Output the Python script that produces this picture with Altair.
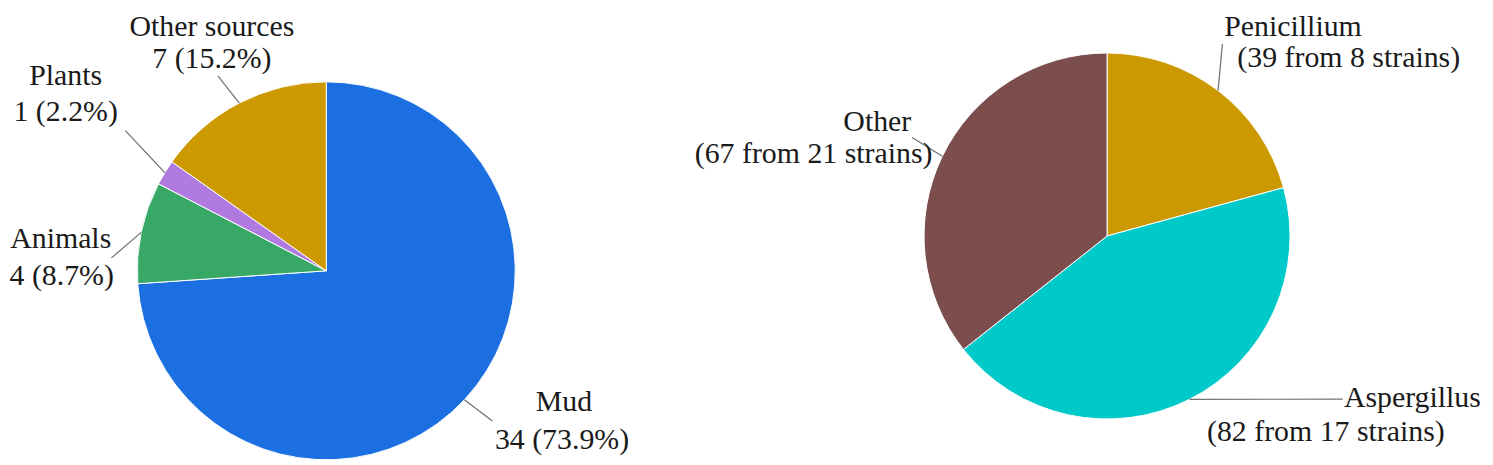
import math
import altair as alt
import pandas as pd

# ---------------- data ----------------
src_cats = ["Mud", "Animals", "Plants", "Other sources"]
src_vals = [34, 4, 1, 7]

gen_cats = ["Penicillium", "Aspergillus", "Other"]
gen_vals = [39, 82, 67]
gen_strains = [8, 17, 21]

# ---------------- styles / layout ----------------
W, H = 1485, 457
FONT = "Liberation Serif"
colors = {
    "Mud": "#1b6fe0",
    "Animals": "#38a866",
    "Plants": "#b07ae0",
    "Other sources": "#cc9900",
    "Penicillium": "#cc9900",
    "Aspergillus": "#00c9c9",
    "Other": "#7b4d4d",
}
LEFT = dict(cx=328, cy=271, r=190)
RIGHT = dict(cx=1113, cy=236, r=184)

# label layout: (line-end x, line-end y, [(text x, baseline y), (text x, baseline y)])
left_layout = {
    "Mud": ((495, 422), [(567, 412), (565, 450)]),
    "Animals": ((112, 258), [(61, 248), (62, 285)]),
    "Plants": ((126, 130), [(66, 84), (66, 120)]),
    "Other sources": ((219, 75), [(213, 35), (213, 67)]),
}
right_layout = {
    "Penicillium": ((1229, 43), [(1300, 35), (1356, 66)]),
    "Aspergillus": ((1350, 400), [(1420, 408), (1333, 442)]),
    "Other": ((917, 137), [(882, 130), (818, 163)]),
}

xs = alt.Scale(domain=[8, 8 + W], range=[0, W])
ys = alt.Scale(domain=[8, 8 + H], range=[0, H])
cscale = alt.Scale(domain=list(colors.keys()), range=list(colors.values()))


def build(cats, vals, geo, layout, line2):
    total = sum(vals)
    pie = pd.DataFrame({"cat": cats, "value": vals, "idx": list(range(len(cats)))})
    rules, texts = [], []
    cum = 0
    for i, (c, v) in enumerate(zip(cats, vals)):
        mid = (cum + v / 2) / total * 2 * math.pi
        cum += v
        sx = geo["cx"] + geo["r"] * math.sin(mid)
        sy = geo["cy"] - geo["r"] * math.cos(mid)
        (ex, ey), pos = layout[c]
        rules.append({"x": sx, "y": sy, "x2": ex, "y2": ey})
        lines = [c, line2(i, v, total)]
        for t, (tx, ty) in zip(lines, pos):
            texts.append({"label": t, "x": tx, "y": ty})
    arc = alt.Chart(pie).mark_arc(outerRadius=geo["r"], stroke="white", strokeWidth=1).encode(
        theta=alt.Theta("value:Q", stack=True),
        order=alt.Order("idx:Q"),
        color=alt.Color("cat:N", scale=cscale, legend=None),
        x=alt.XDatum(geo["cx"], type="quantitative", scale=xs, axis=None),
        y=alt.YDatum(geo["cy"], type="quantitative", scale=ys, axis=None),
    )
    rule = alt.Chart(pd.DataFrame(rules)).mark_rule(color="#6e6e6e", strokeWidth=1.2).encode(
        x=alt.X("x:Q", scale=xs, axis=None),
        y=alt.Y("y:Q", scale=ys, axis=None),
        x2="x2:Q",
        y2="y2:Q",
    )
    text = alt.Chart(pd.DataFrame(texts)).mark_text(
        font=FONT, fontSize=30, align="center", baseline="alphabetic", color="#1a1a1a"
    ).encode(
        x=alt.X("x:Q", scale=xs, axis=None),
        y=alt.Y("y:Q", scale=ys, axis=None),
        text="label:N",
    )
    return arc, rule, text


la, lr, lt = build(src_cats, src_vals, LEFT, left_layout,
                   lambda i, v, t: f"{v} ({v / t * 100:.1f}%)")
ra, rr, rt = build(gen_cats, gen_vals, RIGHT, right_layout,
                   lambda i, v, t: f"({v} from {gen_strains[i]} strains)")

chart = alt.layer(la, ra, lr, rr, lt, rt).resolve_scale(theta="independent").properties(
    width=W, height=H, padding=0, autosize=alt.AutoSizeParams(type="none")
).configure_view(stroke=None)

chart.save("out.html", embed_options={"renderer": "svg", "actions": False})
